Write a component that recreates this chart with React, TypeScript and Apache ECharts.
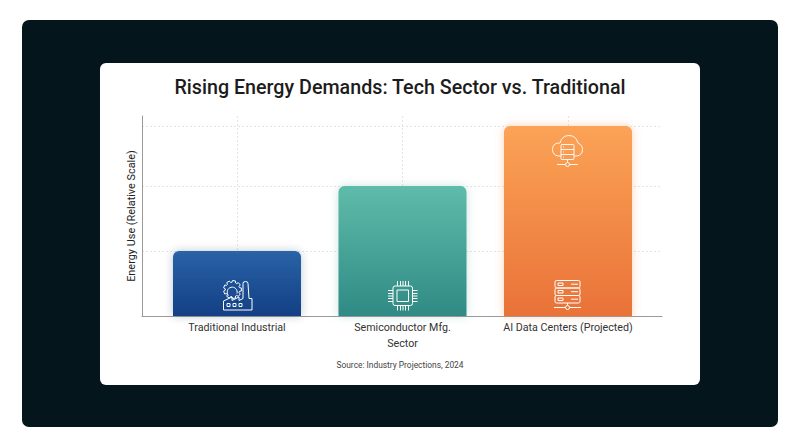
import React, { useEffect, useRef } from "react";
import * as echarts from "echarts";

const title = "Rising Energy Demands: Tech Sector vs. Traditional";
const source = "Source: Industry Projections, 2024";
const yName = "Energy Use (Relative Scale)";
const categories = ["Traditional Industrial", "Semiconductor Mfg.\nSector", "AI Data Centers (Projected)"];
const positions = [0, 1, 2];
const values = [32.5, 65, 95];
const topColors = ["#2a63a6", "#5fbcaa", "#fba356"];
const bottomColors = ["#123f85", "#2f8a84", "#e97238"];
const shadowColors = ["rgba(40,60,90,0.28)", "rgba(60,150,135,0.28)", "rgba(245,130,60,0.38)"];

function gear(cx: number, cy: number, r: number, R: number, n: number) {
  const pts: string[] = [];
  const step = (Math.PI * 2) / n;
  for (let i = 0; i < n; i++) {
    const a = i * step;
    [[-0.32, r], [-0.2, R], [0.2, R], [0.32, r]].forEach(([o, rad]) => {
      const t = a + o * step * 1.2;
      pts.push(`${(cx + rad * Math.cos(t)).toFixed(2)} ${(cy + rad * Math.sin(t)).toFixed(2)}`);
    });
  }
  return "M" + pts.join("L") + "Z";
}
function rrect(x: number, y: number, w: number, h: number, r: number) {
  return `M${x + r} ${y}H${x + w - r}Q${x + w} ${y} ${x + w} ${y + r}V${y + h - r}Q${x + w} ${y + h} ${x + w - r} ${y + h}H${x + r}Q${x} ${y + h} ${x} ${y + h - r}V${y + r}Q${x} ${y} ${x + r} ${y}Z`;
}
function box(x: number, y: number, w: number, h: number) {
  return `M${x} ${y}H${x + w}V${y + h}H${x}Z`;
}
function circ(cx: number, cy: number, r: number) {
  return `M${cx - r} ${cy}A${r} ${r} 0 1 1 ${cx + r} ${cy}A${r} ${r} 0 1 1 ${cx - r} ${cy}Z`;
}

const factoryIcon =
  gear(9.5, 9, 7.2, 9, 9) +
  "M5.5 15A5 5 0 1 1 14 13" +
  "M0.5 29.5V20.5L9 16.5V20L16 16.5V20L20 18V3Q20 1 22.5 1Q25 1 25 3L26 18H29V29.5Z" +
  box(4, 23, 3, 3) + box(10, 23, 3, 3) + box(16, 23, 3, 3);
const pins = [9.5, 12.5, 15, 17.5, 20.5];
const chipIcon =
  rrect(5, 5, 19.5, 19.5, 2) + box(9, 9, 11.5, 11.5) +
  pins.map((p) => `M${p} 0V5M${p} 24.5V29.5M0 ${p}H5M24.5 ${p}H29.5`).join("");
const serverIcon =
  rrect(1, 0.5, 25, 7.5, 1.5) + rrect(1, 8, 25, 7.5, 1.5) + rrect(1, 15.5, 25, 7.5, 1.5) +
  box(4, 3, 5, 2.5) + box(4, 10.5, 5, 2.5) + box(4, 18, 5, 2.5) +
  "M17 4.2H24M17 11.7H24M17 19.2H24M13.5 23V25.5M0 27.5H11.5M15.5 27.5H27" + circ(13.5, 27.5, 2);
const cloudIcon =
  "M9 21H6Q0.5 20 0.5 14.5Q0.5 9 6 8Q7.5 8.5 8 8Q10 0.5 17 0.5Q24 0.5 26 8Q30.5 10 30.5 14.5Q30.5 20 25 21H22" +
  rrect(9, 9.5, 13, 15, 1) + "M9 14.5H22M9 19.5H22M11 12H12M11 17H12M11 22H12M15.5 24.5V27M5 29.5H13.5M17.5 29.5H26" +
  circ(15.5, 29.5, 2);

echarts.graphic.registerShape("factoryIcon", echarts.graphic.extendPath(factoryIcon as any, {}) as any);
echarts.graphic.registerShape("chipIcon", echarts.graphic.extendPath(chipIcon as any, {}) as any);
echarts.graphic.registerShape("serverIcon", echarts.graphic.extendPath(serverIcon as any, {}) as any);
echarts.graphic.registerShape("cloudIcon", echarts.graphic.extendPath(cloudIcon as any, {}) as any);

const icon = (type: string, x: number, y: number, stroke = "#ffffff") => ({
  type, x, y, z: 100, silent: true,
  style: { fill: "none", stroke, lineWidth: 1 },
});

export default function App() {
  const ref = useRef<HTMLDivElement>(null);
  useEffect(() => {
    document.body.style.margin = "0";
    document.body.style.background = "#ffffff";
    const chart = echarts.init(ref.current!, undefined, { renderer: "svg" });
    chart.setOption({
      animation: false,
      backgroundColor: "#ffffff",
      textStyle: { fontFamily: "Roboto" },
      title: [
        { text: title, left: 400, top: 77, padding: 0, textAlign: "center", textStyle: { fontFamily: "Roboto", fontSize: 19.7, fontWeight: 500, color: "#1c1c1c" } },
        { text: source, left: 400, top: 361, padding: 0, textAlign: "center", textStyle: { fontFamily: "Roboto", fontSize: 8.4, fontWeight: 400, color: "#444444" } },
      ],
      grid: { left: 142, top: 116, width: 520, height: 200, containLabel: false },
      xAxis: {
        type: "value",
        min: -0.574,
        max: 2.568,
        axisLine: { show: true, onZero: false, lineStyle: { color: "#9a9a9a", width: 1 } },
        axisTick: { show: false, customValues: positions },
        axisLabel: {
          customValues: positions,
          margin: 3,
          fontFamily: "Roboto",
          fontSize: 10.7,
          lineHeight: 16,
          color: "#333333",
          formatter: (v: number) => categories[Math.round(v)],
        },
        splitLine: { show: true, lineStyle: { color: "#e4e4e4", type: [2, 2], width: 1 } },
      },
      yAxis: {
        type: "value",
        min: 0,
        max: 100,
        name: yName,
        nameLocation: "middle",
        nameRotate: 90,
        nameGap: 5,
        nameTextStyle: { fontFamily: "Roboto", fontSize: 10.9, color: "#222222" },
        axisLine: { show: true, onZero: false, lineStyle: { color: "#9a9a9a", width: 1 } },
        axisTick: { show: false, customValues: values },
        axisLabel: { show: false },
        splitLine: { show: true, lineStyle: { color: "#e4e4e4", type: [2, 2], width: 1 } },
      },
      series: [
        {
          type: "bar",
          clip: false,
          barWidth: 128,
          z: 5,
          data: positions.map((p, i) => ({
            value: [p, values[i]],
            itemStyle: {
              borderRadius: [6, 6, 0, 0],
              shadowBlur: 8,
              shadowColor: shadowColors[i],
              color: new echarts.graphic.LinearGradient(0, 0, 0, 1, [
                { offset: 0, color: topColors[i] },
                { offset: 1, color: bottomColors[i] },
              ]),
            },
          })),
        },
      ],
      graphic: {
        elements: [
          { type: "rect", z: -20, silent: true, shape: { x: 22, y: 20, width: 756, height: 407, r: 7 }, style: { fill: "#04161c" } },
          { type: "rect", z: -10, silent: true, shape: { x: 100, y: 63, width: 600, height: 322, r: 6 }, style: { fill: "#ffffff" } },
          icon("factoryIcon", 223, 280.5),
          icon("chipIcon", 388, 281),
          icon("serverIcon", 554, 280),
          icon("cloudIcon", 552, 135, "rgba(255,255,255,0.9)"),
        ],
      },
    });
    return () => chart.dispose();
  }, []);
  return <div ref={ref} style={{ width: 800, height: 447 }} />;
}
